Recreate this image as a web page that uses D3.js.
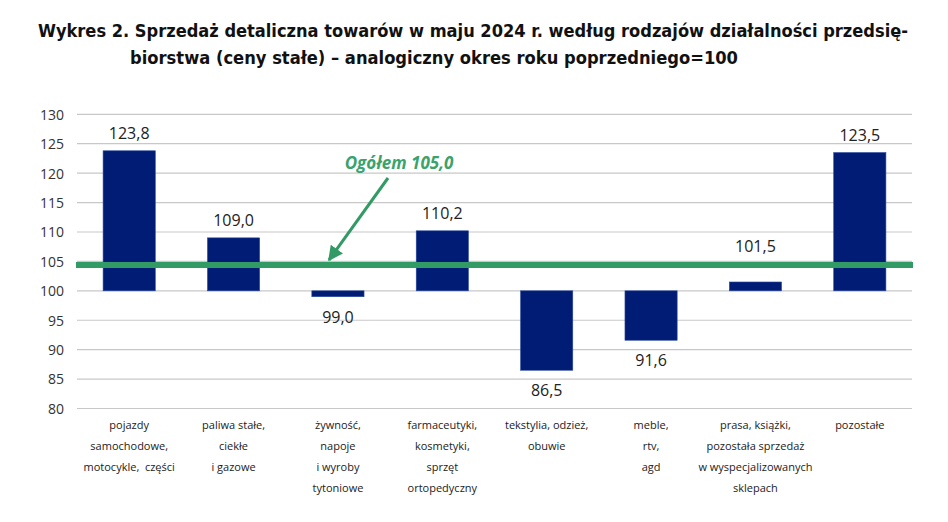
<!DOCTYPE html>
<html><head><meta charset="utf-8">
<script src="https://cdn.jsdelivr.net/npm/d3@7"></script>
<style>body{margin:0;background:#fff} text{white-space:pre}</style>
</head><body><svg id="c" width="948" height="522"></svg>
<script>
const categories = [
  ["pojazdy","samochodowe,","motocykle,  części"],
  ["paliwa stałe,","ciekłe","i gazowe"],
  ["żywność,","napoje","i wyroby","tytoniowe"],
  ["farmaceutyki,","kosmetyki,","sprzęt","ortopedyczny"],
  ["tekstylia, odzież,","obuwie"],
  ["meble,","rtv,","agd"],
  ["prasa, książki,","pozostała sprzedaż","w wyspecjalizowanych","sklepach"],
  ["pozostałe"]
];
const values = [123.8, 109.0, 99.0, 110.2, 86.5, 91.6, 101.5, 123.5];
const yTicks = [80,85,90,95,100,105,110,115,120,125,130];
const ogolem = 105.0;
const ogolemLinePos = 104.4; // where the line is drawn in the picture
const titleLines = ["Wykres 2. Sprzedaż detaliczna towarów w maju 2024 r. według rodzajów działalności przedsię-",
                    "biorstwa (ceny stałe) – analogiczny okres roku poprzedniego=100"];

const svg = d3.select("#c");
const fmt = v => v.toFixed(1).replace(".", ",");
const x = d3.scaleBand().domain(d3.range(values.length)).range([77, 912]).paddingInner(0.5).paddingOuter(0.25);
const y = d3.scaleLinear().domain([80, 130]).range([408.5, 114.3]);
const lineY = y(ogolemLinePos);

// title
const tf = "'DejaVu Sans Condensed','DejaVu Sans',sans-serif";
svg.append("text").attr("x",38).attr("y",37).attr("font-family",tf).attr("font-weight","bold")
  .attr("font-size",18).attr("textLength",870).attr("lengthAdjust","spacingAndGlyphs").attr("fill","#111").text(titleLines[0]);
svg.append("text").attr("x",130).attr("y",64).attr("font-family",tf).attr("font-weight","bold")
  .attr("font-size",18).attr("textLength",608).attr("lengthAdjust","spacingAndGlyphs").attr("fill","#111").text(titleLines[1]);

// grid
svg.append("g").selectAll("line").data(yTicks).join("line")
  .attr("x1",77).attr("x2",912).attr("y1",d=>y(d)).attr("y2",d=>y(d))
  .attr("stroke","#c8c8c8").attr("stroke-width",1.2);

// y axis labels
const yAxis = d3.axisLeft(y).tickValues(yTicks).tickSize(0).tickPadding(0);
const ya = svg.append("g").attr("transform","translate(64,0)").call(yAxis);
ya.select(".domain").remove();
ya.selectAll("text").attr("font-family","'Open Sans',sans-serif").attr("font-size",14).attr("fill","#333").attr("dy","0.35em");

// bars
svg.selectAll("rect.bar").data(values).join("rect").attr("class","bar")
  .attr("x",(d,i)=>x(i)).attr("width",x.bandwidth())
  .attr("y",d=>y(Math.max(d,100))).attr("height",d=>Math.abs(y(d)-y(100)))
  .attr("fill","#001c74").attr("stroke","#2a4aa0").attr("stroke-width",0.6);

// value labels
svg.selectAll("text.val").data(values).join("text").attr("class","val")
  .attr("x",(d,i)=>x(i)+x.bandwidth()/2)
  .attr("y",d=> d>=100 ? Math.min(y(d)-12, lineY-13) : y(d)+26)
  .attr("text-anchor","middle").attr("font-family","'Open Sans',sans-serif").attr("font-size",16).attr("fill","#222")
  .text(d=>fmt(d));

// ogolem line
svg.append("line").attr("x1",76).attr("x2",913).attr("y1",lineY).attr("y2",lineY)
  .attr("stroke","#329a64").attr("stroke-width",6);

// annotation
svg.append("text").attr("x",399).attr("y",169).attr("text-anchor","middle")
  .attr("font-family","'Open Sans',sans-serif").attr("font-weight","bold").attr("font-style","italic")
  .attr("font-size",17).attr("fill","#3aa36c").text("Ogółem " + fmt(ogolem));
svg.append("defs").append("marker").attr("id","ah").attr("viewBox","0 0 10 10").attr("refX",9).attr("refY",5)
  .attr("markerWidth",5).attr("markerHeight",5).attr("orient","auto")
  .append("path").attr("d","M0,0 L10,5 L0,10 z").attr("fill","#329a64");
svg.append("line").attr("x1",388).attr("y1",178).attr("x2",329).attr("y2",260)
  .attr("stroke","#329a64").attr("stroke-width",3).attr("marker-end","url(#ah)");

// category labels
categories.forEach((lines,i)=>{
  const t = svg.append("text").attr("text-anchor","middle").attr("font-family","'Open Sans',sans-serif")
    .attr("font-size",11).attr("fill","#222");
  lines.forEach((l,j)=>{
    t.append("tspan").attr("x",x(i)+x.bandwidth()/2).attr("y",429 + j*21).text(l);
  });
});
</script></body></html>
